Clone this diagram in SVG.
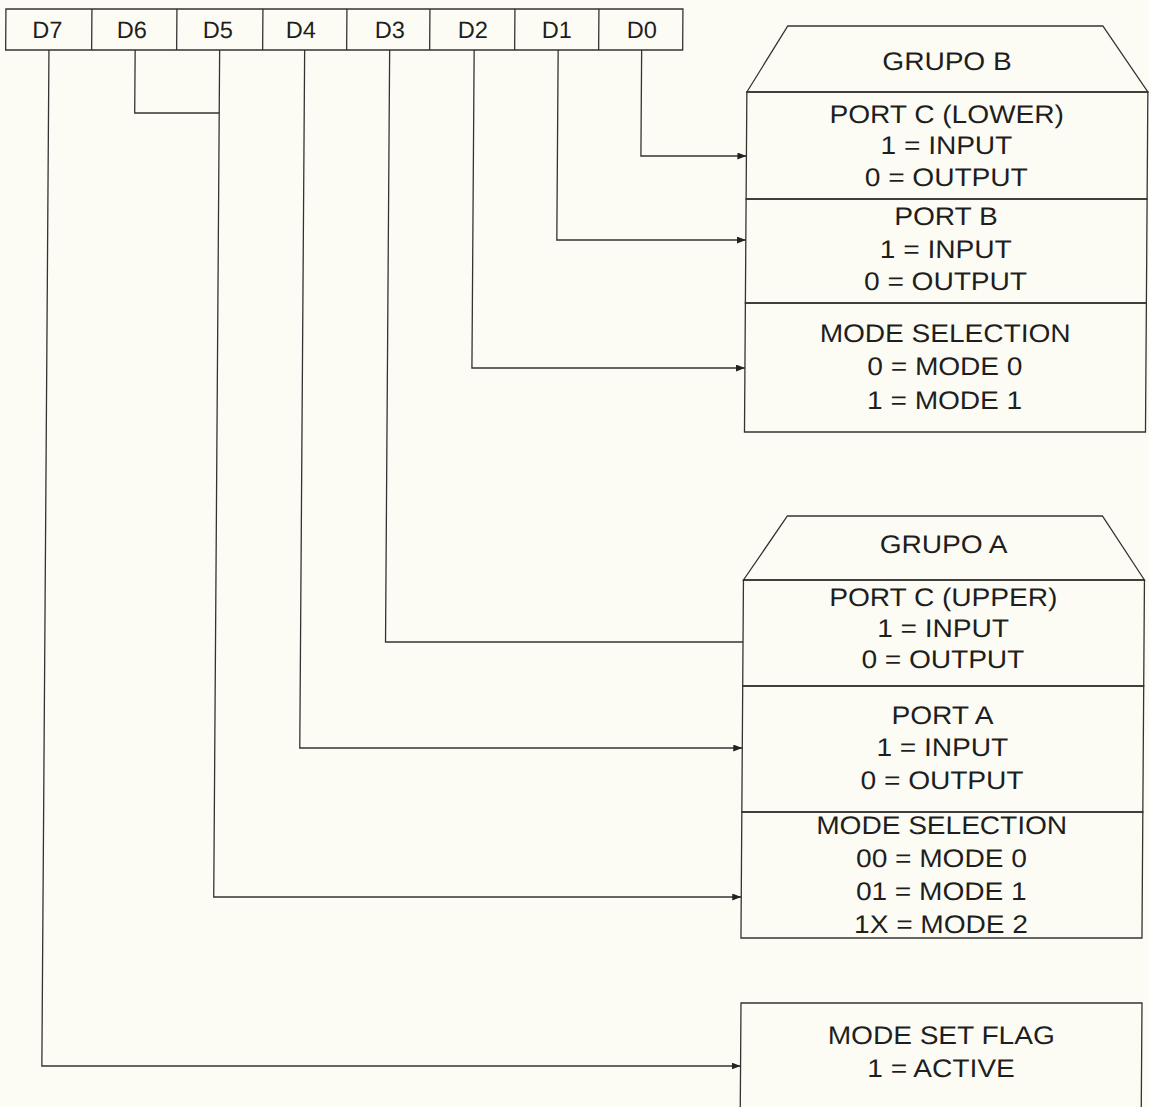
<svg xmlns="http://www.w3.org/2000/svg" width="1149" height="1107" viewBox="0 0 1149 1107">
<defs>
<marker id="arr" markerWidth="10" markerHeight="8" refX="9" refY="3.5" orient="auto" markerUnits="userSpaceOnUse">
<path d="M0,0 L9,3.5 L0,7 Z" fill="#222"/>
</marker>
<style>
.bx{fill:none;stroke:#333;stroke-width:1.3}
.ln{fill:none;stroke:#333;stroke-width:1.3}
.t{font-family:"Liberation Sans",Arial,sans-serif;font-size:25.5px;fill:#1e1e1e;text-anchor:middle}
.r{font-family:"Liberation Sans",Arial,sans-serif;font-size:23.5px;fill:#1e1e1e;text-anchor:middle}
</style>
</defs>
<rect width="1149" height="1107" fill="#fdfcf4"/>
<g transform="skewX(-0.4)">
<g id="register">
<rect class="bx" x="6" y="9" width="677" height="41"/>
<path class="bx" d="M92,9V50M177,9V50M263,9V50M347,9V50M430,9V50M515,9V50M599,9V50"/>
<text class="r" x="47.5" y="38">D7</text>
<text class="r" x="132" y="38">D6</text>
<text class="r" x="218" y="38">D5</text>
<text class="r" x="301" y="38">D4</text>
<text class="r" x="390" y="38">D3</text>
<text class="r" x="473" y="38">D2</text>
<text class="r" x="557" y="38">D1</text>
<text class="r" x="642" y="38">D0</text>
</g>
<g id="grupoB">
<path class="bx" d="M747.5,92 L788,26 L1103,26 L1148.5,92 Z"/>
<text class="t" transform="translate(947.5,70) scale(1.1,1)">GRUPO B</text>
</g>
<g id="portCLower">
<rect class="bx" x="747.5" y="92" width="401" height="107"/>
<g transform="translate(947.5,0) scale(1.1,1)">
<text class="t" y="123">PORT C (LOWER)</text>
<text class="t" y="154.5">1 = INPUT</text>
<text class="t" y="186">0 = OUTPUT</text>
</g>
</g>
<g id="portB">
<rect class="bx" x="747.5" y="199" width="401" height="104"/>
<g transform="translate(947.5,0) scale(1.1,1)">
<text class="t" y="225">PORT B</text>
<text class="t" y="258">1 = INPUT</text>
<text class="t" y="290">0 = OUTPUT</text>
</g>
</g>
<g id="modeSelB">
<rect class="bx" x="747.5" y="303" width="401" height="129"/>
<g transform="translate(947.5,0) scale(1.1,1)">
<text class="t" y="342">MODE SELECTION</text>
<text class="t" y="375">0 = MODE 0</text>
<text class="t" y="409">1 = MODE 1</text>
</g>
</g>
<g id="grupoA">
<path class="bx" d="M747.5,580 L791,516 L1106,516 L1148.5,580 Z"/>
<text class="t" transform="translate(947.5,553) scale(1.1,1)">GRUPO A</text>
</g>
<g id="portCUpper">
<rect class="bx" x="747.5" y="580" width="401" height="106"/>
<g transform="translate(947.5,0) scale(1.1,1)">
<text class="t" y="606">PORT C (UPPER)</text>
<text class="t" y="637">1 = INPUT</text>
<text class="t" y="668">0 = OUTPUT</text>
</g>
</g>
<g id="portA">
<rect class="bx" x="747.5" y="686" width="401" height="126"/>
<g transform="translate(947.5,0) scale(1.1,1)">
<text class="t" y="724">PORT A</text>
<text class="t" y="756">1 = INPUT</text>
<text class="t" y="789">0 = OUTPUT</text>
</g>
</g>
<g id="modeSelA">
<rect class="bx" x="747.5" y="812" width="401" height="126"/>
<g transform="translate(947.5,0) scale(1.1,1)">
<text class="t" y="834">MODE SELECTION</text>
<text class="t" y="867">00 = MODE 0</text>
<text class="t" y="900">01 = MODE 1</text>
<text class="t" y="933">1X = MODE 2</text>
</g>
</g>
<g id="modeSetFlag">
<path class="bx" d="M748,1112 V1003 H1149 V1112"/>
<g transform="translate(948.5,0) scale(1.1,1)">
<text class="t" y="1044">MODE SET FLAG</text>
<text class="t" y="1077">1 = ACTIVE</text>
</g>
</g>
<g id="connectors">
<path class="ln" d="M642,50 V156 H747.5" marker-end="url(#arr)"/>
<path class="ln" d="M558.5,50 V240 H747.5" marker-end="url(#arr)"/>
<path class="ln" d="M474.5,50 V368 H747.5" marker-end="url(#arr)"/>
<path class="ln" d="M390,50 V642 H747.5"/>
<path class="ln" d="M305,50 V748 H747.5" marker-end="url(#arr)"/>
<path class="ln" d="M135.5,50 V113 H220"/>
<path class="ln" d="M220,50 V897 H747.5" marker-end="url(#arr)"/>
<path class="ln" d="M49.3,50 V1066 H748" marker-end="url(#arr)"/>
</g>
</g>
</svg>
